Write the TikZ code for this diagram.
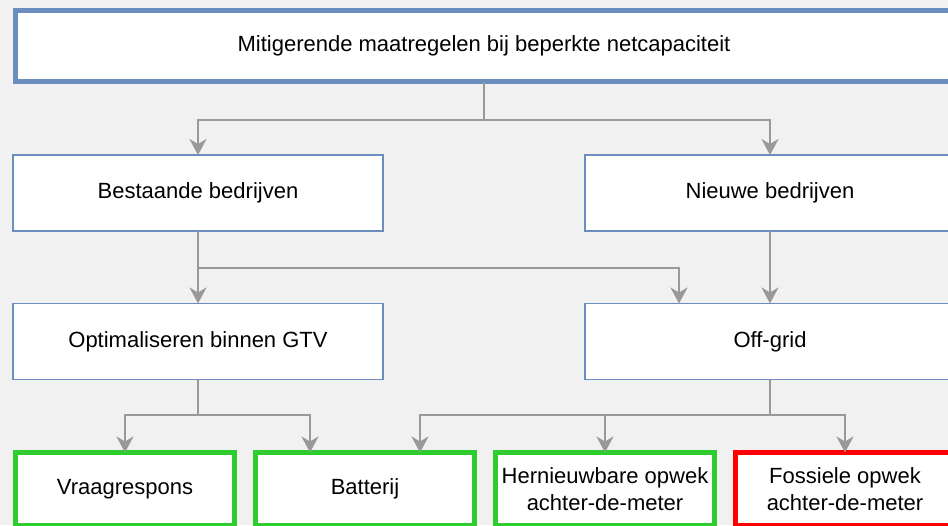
\documentclass[tikz,border=0pt]{standalone}
\usepackage{fontspec}
\setmainfont{Liberation Sans}
\usetikzlibrary{arrows.meta,calc}
\definecolor{bg}{HTML}{F1F1F1}
\definecolor{blu}{HTML}{6C8EBF}
\definecolor{grn}{HTML}{2ECC2E}
\definecolor{rd}{HTML}{FF0000}
\definecolor{ln}{HTML}{999999}
\tikzset{
  box/.style={draw=blu, fill=white, line width=1.5pt, minimum width=370pt, minimum height=76pt, inner sep=0pt, outer sep=0pt, font=\fontsize{22}{27}\selectfont, align=center},
  topbox/.style={box, line width=5pt, minimum width=937pt, minimum height=71pt},
  gbox/.style={box, draw=grn, line width=5pt, minimum width=219pt, minimum height=73pt},
  rbox/.style={gbox, draw=rd},
  arr/.style={draw=ln, line width=2pt, -{Stealth[length=16pt,width=17pt,inset=5pt]}},
  conn/.style={draw=ln, line width=2pt}
}
\begin{document}
\begin{tikzpicture}[x=1pt,y=-1pt]
\useasboundingbox (0,0) rectangle (948,525);
\fill[bg] (0,0) rectangle (948,525);
\clip (0,0) rectangle (948,525);
\node[topbox] (top) at (484,46) {Mitigerende maatregelen bij beperkte netcapaciteit};
\node[box] (best) at (198,193) {Bestaande bedrijven};
\node[box] (nieu) at (770,193) {Nieuwe bedrijven};
\node[box] (opt) at (198,341.5) {Optimaliseren binnen GTV};
\node[box] (offg) at (770,341.5) {Off-grid};
\node[gbox] (vraag) at (125,489) {Vraagrespons};
\node[gbox] (batt) at (365,489) {Batterij};
\node[gbox] (hern) at (605,489) {Hernieuwbare opwek\\achter-de-meter};
\node[rbox] (foss) at (845,489) {Fossiele opwek\\achter-de-meter};
\coordinate (j1) at (484,120);
\coordinate (j2) at (198,268);
\coordinate (j3) at (198,415);
\coordinate (j4) at (770,415);
\draw[conn] (top.south) -- (j1);
\draw[arr] (j1) -| (best.north);
\draw[arr] (j1) -| (nieu.north);
\draw[arr] (best.south) -- (opt.north);
\draw[arr] (j2) -| ([xshift=-91pt]offg.north);
\draw[arr] (nieu.south) -- (offg.north);
\draw[conn] (opt.south) -- (j3);
\draw[arr] (j3) -| (vraag.north);
\draw[arr] (j3) -| ([xshift=-55pt]batt.north);
\draw[conn] (offg.south) -- (j4);
\draw[arr] (j4) -| ([xshift=55pt]batt.north);
\draw[arr] (j4) -| (hern.north);
\draw[arr] (j4) -| (foss.north);
\end{tikzpicture}
\end{document}
